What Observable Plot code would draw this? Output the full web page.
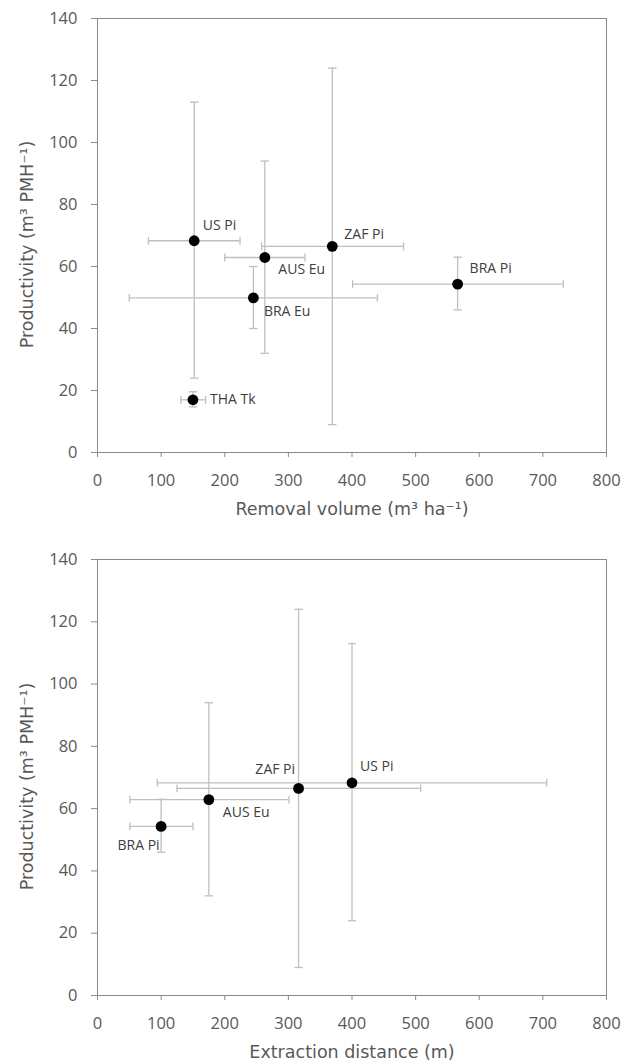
<!DOCTYPE html>
<html><head><meta charset="utf-8">
<script src="https://cdn.jsdelivr.net/npm/d3@7"></script>
<script src="https://cdn.jsdelivr.net/npm/@observablehq/plot@0.6"></script>
<style>body{margin:0;background:#fff} svg{display:block}</style>
</head><body><div id="chart"></div>
<script>
// ---- Data: panel 1 (removal volume) ----
const removalSites = ["US Pi", "AUS Eu", "ZAF Pi", "BRA Pi", "BRA Eu", "THA Tk"];
const removalVolume = [152, 263, 369, 566, 245, 150];
const removalVolumeLow = [80, 200, 258, 401, 50, 131];
const removalVolumeHigh = [224, 326, 481, 732, 440, 170];
const removalProd = [68.3, 62.9, 66.5, 54.3, 49.9, 17];
const removalProdLow = [24, 32, 9, 46, 40, 14.7];
const removalProdHigh = [113, 94, 124, 63, 60, 19.6];

// ---- Data: panel 2 (extraction distance) ----
const distanceSites = ["BRA Pi", "AUS Eu", "ZAF Pi", "US Pi"];
const extractionDistance = [100, 175, 316, 400];
const distanceLow = [51, 51, 125, 94];
const distanceHigh = [150, 301, 508, 706];
const distanceProd = [54.3, 62.9, 66.5, 68.3];
const distanceProdLow = [46, 32, 9, 24];
const distanceProdHigh = [63, 94, 124, 113];

// ---- Axis ticks / titles ----
const xTicks = [0, 100, 200, 300, 400, 500, 600, 700, 800];
const yTicks = [0, 20, 40, 60, 80, 100, 120, 140];
const yTitle = "Productivity (m³ PMH⁻¹)";
const xTitle1 = "Removal volume (m³ ha⁻¹)";
const xTitle2 = "Extraction distance (m)";

// label placement (layout only)
const place1 = {
  "US Pi": [8.5, -15.5, "start"], "AUS Eu": [13.5, 12, "start"], "ZAF Pi": [12, -12, "start"],
  "BRA Pi": [12, -15.5, "start"], "BRA Eu": [10.5, 14, "start"], "THA Tk": [17, 0, "start"]
};
const place2 = {
  "BRA Pi": [-1.5, 19.5, "end"], "AUS Eu": [14, 12.5, "start"], "ZAF Pi": [-3.5, -19, "end"],
  "US Pi": [8, -16.5, "start"]
};

const capH = {draw(ctx, size) { const r = Math.sqrt(size / Math.PI); ctx.moveTo(-r, 0); ctx.lineTo(r, 0); }};
const capV = {draw(ctx, size) { const r = Math.sqrt(size / Math.PI); ctx.moveTo(0, -r); ctx.lineTo(0, r); }};

function rowsOf(sites, x, xlo, xhi, y, ylo, yhi) {
  return sites.map((site, i) => ({site, x: x[i], xlo: xlo[i], xhi: xhi[i], y: y[i], ylo: ylo[i], yhi: yhi[i]}));
}

const ERR = "#bfbfbf";
function panel(rows, xTitle, place, height, marginTop, marginBottom) {
  const labelMarks = rows.map(r => {
    const [dx, dy, anchor] = place[r.site];
    return Plot.text([r], {x: "x", y: "y", text: "site", dx, dy, textAnchor: anchor,
      fontFamily: "Open Sans", fontSize: 14, fill: "#404040"});
  });
  return Plot.plot({
    width: 634, height, marginTop, marginBottom, marginLeft: 97, marginRight: 28,
    style: {fontFamily: "Open Sans", fontSize: "16.5px", color: "#595959", background: "#fff"},
    x: {domain: [0, 800], label: null},
    y: {domain: [0, 140], label: null},
    marks: [
      Plot.frame({stroke: "#898989"}),
      Plot.axisX({ticks: xTicks, tickSize: 5, tickPadding: 17, stroke: "#898989", fill: "#595959", label: null}),
      Plot.axisY({ticks: yTicks, tickSize: 6, tickPadding: 14, stroke: "#898989", fill: "#595959", label: null}),
      Plot.ruleX(rows, {x: "x", y1: "ylo", y2: "yhi", stroke: ERR, strokeWidth: 1.3}),
      Plot.ruleY(rows, {y: "y", x1: "xlo", x2: "xhi", stroke: ERR, strokeWidth: 1.3}),
      Plot.dot(rows, {x: "x", y: "ylo", symbol: capH, r: 4.2, stroke: ERR, strokeWidth: 1.3, fill: "none"}),
      Plot.dot(rows, {x: "x", y: "yhi", symbol: capH, r: 4.2, stroke: ERR, strokeWidth: 1.3, fill: "none"}),
      Plot.dot(rows, {x: "xlo", y: "y", symbol: capV, r: 3.9, stroke: ERR, strokeWidth: 1.3, fill: "none"}),
      Plot.dot(rows, {x: "xhi", y: "y", symbol: capV, r: 3.9, stroke: ERR, strokeWidth: 1.3, fill: "none"}),
      Plot.dot(rows, {x: "x", y: "y", r: 5.4, fill: "#000", stroke: "none"}),
      ...labelMarks,
      Plot.text([xTitle], {text: d => d, frameAnchor: "bottom", textAnchor: "middle", lineAnchor: "middle", dy: 56.5,
        fontFamily: "DejaVu Sans", fontSize: 17.5, fill: "#595959"}),
      Plot.text([yTitle], {text: d => d, frameAnchor: "left", textAnchor: "middle", lineAnchor: "middle", dx: -70, dy: 9, rotate: -90,
        fontFamily: "DejaVu Sans", fontSize: 17.5, fill: "#595959"})
    ]
  });
}

const rows1 = rowsOf(removalSites, removalVolume, removalVolumeLow, removalVolumeHigh, removalProd, removalProdLow, removalProdHigh);
const rows2 = rowsOf(distanceSites, extractionDistance, distanceLow, distanceHigh, distanceProd, distanceProdLow, distanceProdHigh);

const el = document.getElementById("chart");
el.append(panel(rows1, xTitle1, place1, 530, 18, 78));
el.append(panel(rows2, xTitle2, place2, 531, 29, 66));
</script>
</body></html>
